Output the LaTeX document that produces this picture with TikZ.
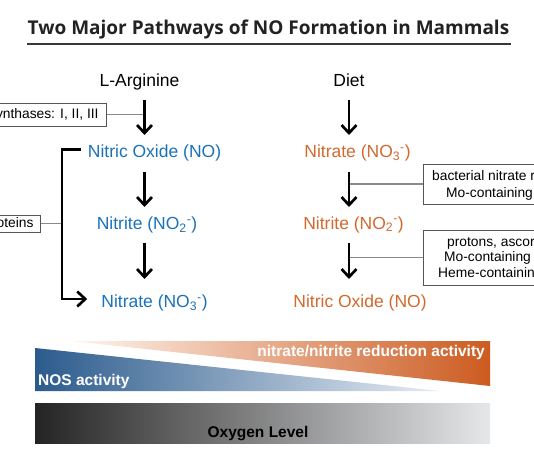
\documentclass[tikz,border=0pt]{standalone}
\usepackage{fontspec}
\setmainfont{Liberation Sans}
\newfontfamily\titlefont{Open Sans}
\usetikzlibrary{arrows.meta,calc}
\definecolor{titlecol}{HTML}{222222}
\definecolor{blueT}{HTML}{1B72B8}
\definecolor{orangeT}{HTML}{D2692F}
\definecolor{bluL}{HTML}{2B5B8D}
\definecolor{bluR}{HTML}{E8EDF3}
\definecolor{orgL}{HTML}{FFF5EF}
\definecolor{orgR}{HTML}{CC5B20}
\definecolor{grayL}{HTML}{242424}
\definecolor{grayR}{HTML}{E6E7E9}
\definecolor{boxcol}{HTML}{555555}
\definecolor{conncol}{HTML}{8A8A8A}
\tikzset{
  main/.style={font=\fontsize{17.5}{21}\selectfont, inner sep=0pt, anchor=base},
  small/.style={font=\fontsize{13.8}{16.5}\selectfont, inner sep=0pt},
  boxnode/.style={draw=boxcol, line width=0.9pt, font=\fontsize{13.8}{16.5}\selectfont, inner ysep=0pt},
  conn/.style={draw=conncol, line width=1.1pt},
  arr/.style={line width=2.7pt, -{Straight Barb[length=8pt,width=15pt]}},
  btext/.style={font=\fontsize{15.5}{18}\selectfont\bfseries, inner sep=0pt, text=white}
}
\begin{document}
\begin{tikzpicture}[x=1pt,y=-1pt]
\useasboundingbox (0,0) rectangle (534,462);
\clip (0,0) rectangle (534,462);
\fill[white] (0,0) rectangle (534,462);

% title
\node[font=\titlefont\bfseries\fontsize{19}{23}\selectfont, text=titlecol, inner sep=0pt, anchor=base west] (title) at (27.5,34.3) {Two Major Pathways of NO Formation in Mammals};
\draw[titlecol!90!white, line width=2pt] ($(title.base west)+(-0.5,10.2)$) -- ($(title.base east)+(2,10.2)$);

% axes
\coordinate (axL) at (144.5,0);
\coordinate (axR) at (349,0);
\coordinate (bx) at (62,0);

% main labels
\node[main] (arg) at (139.5,86.7) {L-Arginine};
\node[main, text=blueT] (noL) at (154.5,158) {Nitric Oxide (NO)};
\node[main, text=blueT] (nitL) at (147,229.5) {Nitrite (NO\textsubscript{2}\textsuperscript{-})};
\node[main, text=blueT] (natL) at (154.5,307.7) {Nitrate (NO\textsubscript{3}\textsuperscript{-})};
\node[main] (diet) at (349,86.7) {Diet};
\node[main, text=orangeT] (natR) at (357.5,158) {Nitrate (NO\textsubscript{3}\textsuperscript{-})};
\node[main, text=orangeT] (nitR) at (353.5,229) {Nitrite (NO\textsubscript{2}\textsuperscript{-})};
\node[main, text=orangeT] (noR) at (360,307.7) {Nitric Oxide (NO)};

% boxes
\node[boxnode, anchor=east, minimum height=23pt, inner xsep=8pt] (nos) at (107,114.5) {Nitric oxide synthases: I, II, III};
\node[boxnode, anchor=east, minimum height=17pt, inner xsep=7pt] (prot) at (41,223.5) {heme proteins};
\node[boxnode, anchor=west, minimum height=40pt, minimum width=200pt] (b1) at (423,184) {};
\node[boxnode, anchor=west, minimum height=55pt, minimum width=200pt] (b2) at (423,257.5) {};
\node[small, anchor=base west] (b1a) at (432,180) {bacterial nitrate reductases};
\node[small, anchor=base west] (b1b) at (446,197) {Mo-containing enzymes};
\node[small, anchor=base west] (b2a) at (447,246) {protons, ascorbate, polyphenols};
\node[small, anchor=base west] (b2b) at (444,261) {Mo-containing enzymes};
\node[small, anchor=base west] (b2c) at (438,277) {Heme-containing proteins};

% connectors
\draw[conn] (nos.east) -- (nos.east -| axL);
\draw[conn] (prot.east) -- (prot.east -| bx);
\draw[conn] (b1.west -| axR) -- (b1.west);
\draw[conn] (b2.west -| axR) -- (b2.west);

% arrows left
\draw[arr] ($(arg.base -| axL)+(0,13.3)$) -- ($(noL.base -| axL)+(0,-23)$);
\draw[arr] ($(noL.base -| axL)+(0,14)$) -- ($(nitL.base -| axL)+(0,-22.5)$);
\draw[arr] ($(nitL.base -| axL)+(0,13.5)$) -- ($(natL.base -| axL)+(0,-28.7)$);
% arrows right
\draw[arr] ($(diet.base -| axR)+(0,13.3)$) -- ($(natR.base -| axR)+(0,-23)$);
\draw[arr] ($(natR.base -| axR)+(0,14)$) -- ($(nitR.base -| axR)+(0,-22)$);
\draw[arr] ($(nitR.base -| axR)+(0,14)$) -- ($(noR.base -| axR)+(0,-28.7)$);
% bracket
\draw[arr] ($(noL.base west)+(-7,-8.7)$) -- ($(noL.base west -| bx)+(0,-8.7)$) |- ($(natL.base west)+(-14,-8.7)$);

% bottom gradients
\shade[left color=orgL, right color=orgR] (71,341) -- (490,341) -- (490,386) -- cycle;
\shade[left color=bluL, right color=bluR] (35,348) -- (440,391) -- (35,391) -- cycle;
\shade[left color=grayL, right color=grayR] (35,403) rectangle (490,443);
\node[btext, anchor=base east] (nr) at (485,356) {nitrate/nitrite reduction activity};
\node[btext, anchor=base west] (nosa) at (38,385) {NOS activity};
\node[btext, text=black, anchor=base] (oxy) at (258,437) {Oxygen Level};
\end{tikzpicture}
\end{document}
